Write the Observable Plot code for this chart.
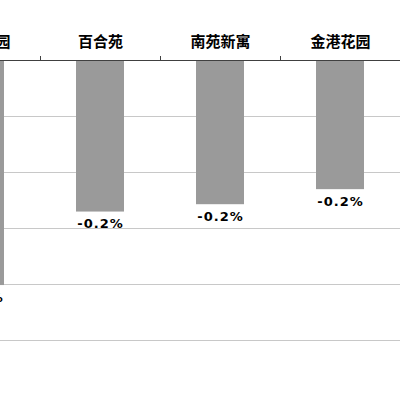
<!DOCTYPE html>
<html><head><meta charset="utf-8">
<script src="https://cdn.jsdelivr.net/npm/d3@7"></script>
<script src="https://cdn.jsdelivr.net/npm/@observablehq/plot@0.6"></script>
<style>
html,body{margin:0;padding:0;background:#fff;}
#wrap{position:relative;width:400px;height:400px;overflow:hidden;background:#fff;}
#chart{position:absolute;left:-80px;top:0;}
.vlabel text, g[font-size="13"] text{letter-spacing:1px;}
</style></head><body><div id="wrap"><div id="chart"></div></div>
<script>
const categories = ["紫金花园", "百合苑", "南苑新寓", "金港花园"];
const values = [-0.3215, -0.2165, -0.206, -0.1845];
const gridTicks = [-0.08, -0.16, -0.24, -0.32, -0.40];
const yDomain = [-0.40, 0];

const data = categories.map((c, i) => ({category: c, value: values[i]}));

const plot = Plot.plot({
  width: 480, height: 400,
  marginTop: 60, marginBottom: 60, marginLeft: 0, marginRight: 0,
  style: {background: "#fff"},
  x: {domain: categories, paddingInner: 0.6, paddingOuter: 0.3},
  y: {domain: yDomain, axis: null},
  marks: [
    Plot.ruleY(gridTicks, {stroke: "#c8c8c8", strokeWidth: 1}),
    Plot.barY(data, {x: "category", y: "value", fill: "#9a9a9a"}),
    Plot.ruleY([0], {stroke: "#404040", strokeWidth: 1}),
    Plot.axisX({anchor: "top", tickSize: 5, dx: 60, tickFormat: () => "", label: null, stroke: "#404040"}),
    Plot.text(categories, {x: d => d, frameAnchor: "top", dy: -18, lineAnchor: "middle",
      fontSize: 15, fontWeight: "bold", fontFamily: "Noto Sans CJK SC", fill: "#000"}),
    Plot.text(data, {x: "category", y: "value", text: d => d.value.toFixed(1) + "%",
      dy: 12, lineAnchor: "middle", fontSize: 13, fontWeight: "bold",
      fontFamily: "DejaVu Sans", fill: "#000", className: "vlabel"})
  ]
});
document.getElementById("chart").appendChild(plot);
</script></body></html>
